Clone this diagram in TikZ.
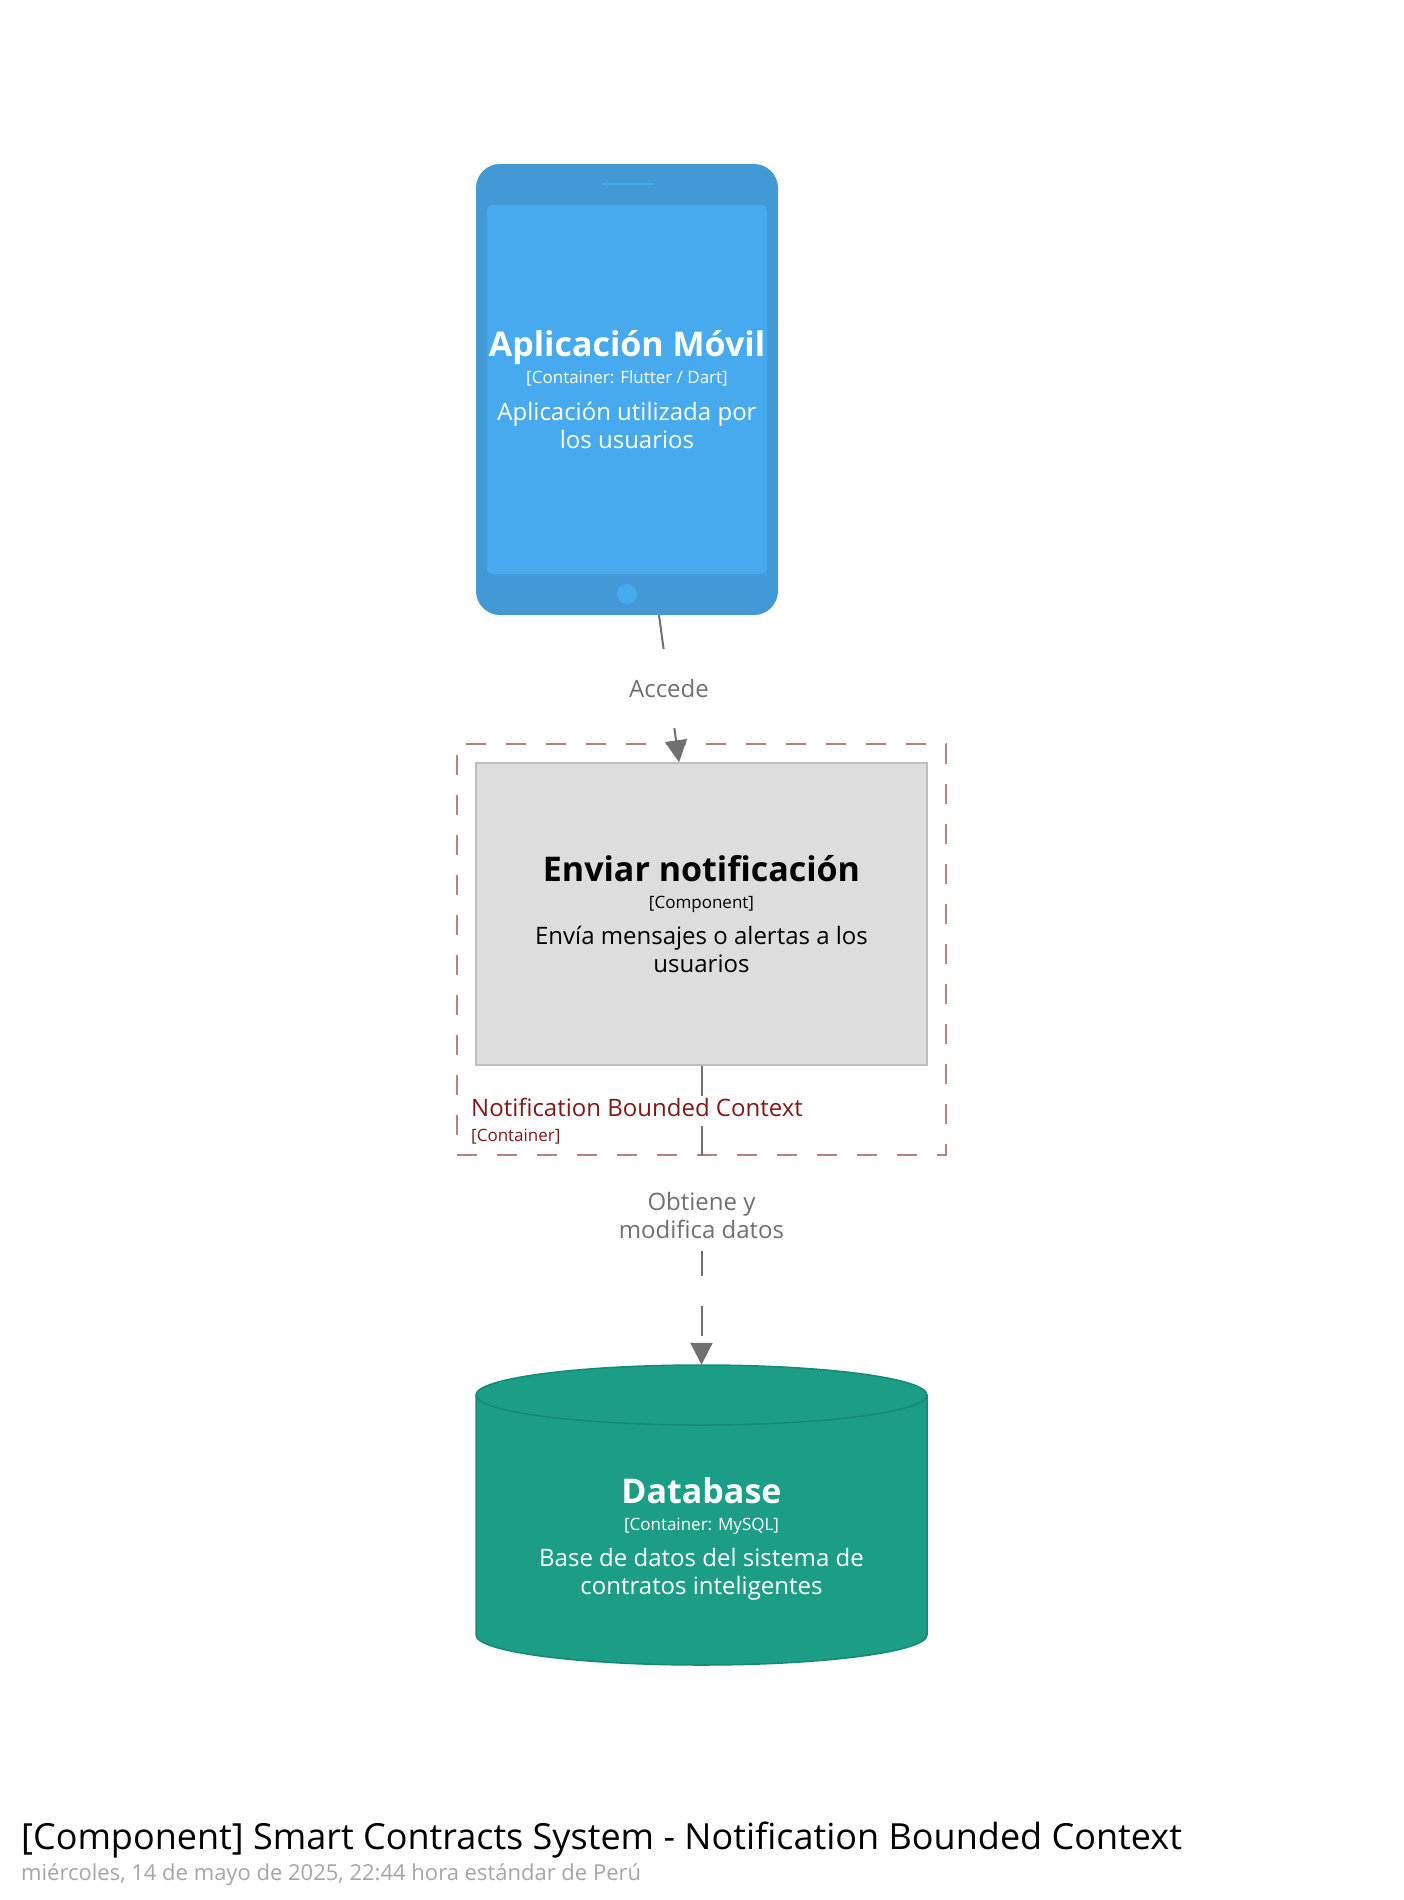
\documentclass[tikz,border=0pt]{standalone}
\usepackage{fontspec}
\setmainfont{Open Sans}
\usetikzlibrary{arrows.meta,positioning}
\definecolor{c4blue}{RGB}{67,153,214}
\definecolor{c4screen}{RGB}{71,170,238}
\definecolor{c4gray}{RGB}{221,221,221}
\definecolor{c4grayline}{RGB}{190,190,190}
\definecolor{c4green}{RGB}{27,158,133}
\definecolor{c4greenline}{RGB}{22,138,115}
\definecolor{c4bound}{RGB}{180,130,130}
\definecolor{c4boundtxt}{RGB}{128,24,24}
\definecolor{c4rel}{RGB}{112,112,112}
\definecolor{c4sub}{RGB}{165,165,165}
\newcommand{\cfname}{\fontsize{34}{28}\selectfont\bfseries}
\newcommand{\cftech}{\fontsize{17}{28}\selectfont}
\newcommand{\cfdesc}{\fontsize{24}{28}\selectfont}

\begin{document}
\begin{tikzpicture}[x=1pt,y=-1pt,
  c4box/.style={align=center,inner sep=0pt,font=\cfdesc},
  c4rel/.style={draw=c4rel,line width=2pt,-{Triangle[length=22pt,width=22pt]}},
  c4lbl/.style={fill=white,text=c4rel,align=center,inner xsep=6pt,
    font=\fontsize{24}{28}\selectfont}
]
  \useasboundingbox (0,0) rectangle (1404,1900);

  % Mobile app
  \node[fill=c4blue,rounded corners=24pt,minimum width=302pt,minimum height=451pt] (app) at (627,389.5) {};
  \node[c4box,fill=c4screen,rounded corners=5pt,minimum width=280pt,minimum height=369pt,text=white] (appscreen) at (627,389.5) {%
    {\cfname Aplicación Móvil}\\[-0.6pt]
    {\cftech [Container: Flutter / Dart]}\\[8.4pt]
    Aplicación utilizada por\\los usuarios};
  \draw[c4screen,line width=2pt] (602,184) -- (653,184);
  \fill[c4screen] (627,594) circle[radius=10pt];

  % Bounded context
  \node[draw=c4bound,line width=2pt,dash pattern=on 20pt off 20pt,minimum width=489pt,minimum height=411pt] (ctx) at (701.5,949.5) {};
  \node[anchor=west,align=left,inner sep=0pt,text=c4boundtxt,font=\fontsize{24}{24.6}\selectfont] (ctxlbl) at (471,1121) {%
    Notification Bounded Context\\
    {\fontsize{17}{24.6}\selectfont [Container]}};

  % Component
  \node[c4box,fill=c4gray,draw=c4grayline,line width=1.5pt,minimum width=451pt,minimum height=302pt] (notif) at (701.5,914) {%
    {\cfname Enviar notificación}\\[-0.6pt]
    {\cftech [Component]}\\[8.4pt]
    Envía mensajes o alertas a los\\usuarios};

  % Database
  \fill[c4green,draw=c4greenline,line width=1.5pt] (476,1395) -- (476,1635)
    arc[start angle=180,end angle=360,x radius=225.5pt,y radius=30pt] -- (927,1395)
    arc[start angle=0,end angle=180,x radius=225.5pt,y radius=30pt] -- cycle;
  \draw[c4greenline,line width=1.5pt] (476,1395) arc[start angle=180,end angle=360,x radius=225.5pt,y radius=30pt];
  \node[minimum width=451pt,minimum height=300pt,inner sep=0pt] (db) at (701.5,1515) {};
  \node[c4box,text=white] (dbtxt) at (701.5,1539) {%
    {\cfname Database}\\[-0.6pt]
    {\cftech [Container: MySQL]}\\[8.4pt]
    Base de datos del sistema de\\contratos inteligentes};

  % Relations
  \draw[c4rel] ([xshift=32pt]app.south) -- node[c4lbl,inner ysep=30pt] {Accede} ([xshift=-22.5pt]notif.north);
  \draw[c4rel,dash pattern=on 30pt off 30pt] (notif.south) -- node[c4lbl,inner ysep=12pt] {Obtiene y\\modifica datos} (db.north);

  % Title
  \node[anchor=west,inner sep=0pt] (title) at (21,1840) {\fontsize{36}{40}\selectfont [Component] Smart Contracts System - Notification Bounded Context};
  \node[anchor=west,inner sep=0pt,text=c4sub] (date) at (21,1875) {\fontsize{22}{26}\selectfont miércoles, 14 de mayo de 2025, 22:44 hora estándar de Perú};
\end{tikzpicture}
\end{document}
